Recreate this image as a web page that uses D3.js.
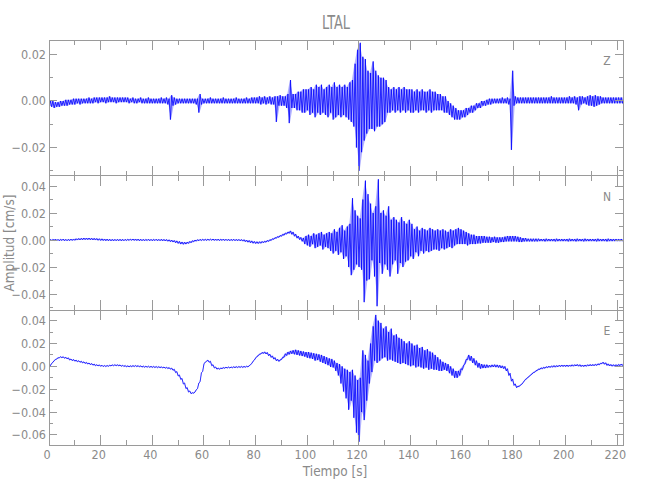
<!DOCTYPE html>
<html><head><meta charset="utf-8">
<script src="https://cdn.jsdelivr.net/npm/d3@7"></script>
<style>
body{margin:0;background:#fff}
svg{display:block}
text{font-family:"Liberation Sans Narrow","DejaVu Sans Condensed",sans-serif;fill:#8a8a8a}
</style>
</head><body>
<svg id="chart" width="650" height="500"></svg>
<script>
// ---------------- DATA ----------------
const title = "LTAL";
const xLabel = "Tiempo [s]";
const yLabel = "Amplitud [cm/s]";
const components = ["Z", "N", "E"];
const sampleStep = 1; // seconds between envelope samples
const xMajorTicks = [0,20,40,60,80,100,120,140,160,180,200,220];
const xMinorTicks = [10,30,50,70,90,110,130,150,170,190,210];
// y tick labels per component (cm/s)
const zMajorTicks = [-0.02, 0.00, 0.02];
const zMinorTicks = [-0.03, -0.01, 0.01];
const nMajorTicks = [-0.04, -0.02, 0.00, 0.02, 0.04];
const nMinorTicks = [-0.05, -0.03, -0.01, 0.01, 0.03];
const eMajorTicks = [-0.06, -0.04, -0.02, 0.00, 0.02, 0.04];
const eMinorTicks = [-0.05, -0.03, -0.01, 0.01, 0.03];
const zRange = [-0.0320, 0.0262];
const nRange = [-0.0518, 0.0478];
const eRange = [-0.0688, 0.0493];

// Envelope of each trace, one max (hi) and min (lo) per second, t = 0..222 s, in 1e-3 cm/s
const zHi = [
0,0,-0.5,-0.5,0,0,0.5,0.5,0.5,1,
1,1,1,1,1,1.5,1,1.5,1.5,1.5,
1.5,1.5,1.5,2,1.5,1.5,1.5,1.5,1.5,1.5,
1.5,1,1.5,1,1,1.5,1,1,1.5,1,
1,1,1,1.5,1,1.5,1,2.5,1.5,1,
1,1,1,1,1,1,1,1,3,1,
1,1,1.5,1,1,1,1,1.5,1,1,
1,1,1.5,1,1,1,1.5,1,1.5,1.5,
1.5,2,1.5,2,1.5,2,1.5,2,2,2.5,
2,2,3,9,3,3,4,4,5,5,
5,6,5,7,6,7,5,6,7,6,
8,6,7,6,7,6,8,9,16,22,
25,19,18,13,12,17,13,11,10,10,
9,6,5,6,5,6,5,6,5,5,
5,4,5,4,5,4,4,5,4,4,
3,3,2,2,0,-1,-2,-3,-4,-4,
-4,-3,-3,-2,-2,-1,-1,0,0,0.5,
1,1,1,1,1,1.5,1,1.5,1,13,
2,1.5,1.5,1.5,1.5,1.5,1.5,1.5,1.5,1.5,
1.5,1.5,1.5,1.5,2,1.5,1.5,1.5,1.5,1.5,
1.5,2,1.5,2,1.5,2,2,1.5,2,2.5,
2,2.5,2,2,1.5,1.5,1.5,1.5,1.5,1.5,
1.5,1.5,1.5];
const zLo = [
-2,-2.5,-3,-2.5,-2.5,-2,-2,-2,-1.5,-1.5,
-1.5,-1,-1.5,-1,-1,-1,-1,-1,-0.5,-1,
-0.5,-0.5,-1,-0.5,-0.5,-0.5,-1,-0.5,-0.5,-0.5,
-0.5,-1,-0.5,-1,-1,-0.5,-1,-1,-1,-1,
-1,-1,-1,-1,-1,-1,-1.5,-8,-2,-1.5,
-1,-1,-1,-1,-1,-1,-1,-1.5,-5,-1.5,
-1,-1,-1,-1,-1,-1,-1,-1,-1,-1,
-1,-1,-1,-1,-1,-1,-1,-1,-1,-1,
-1,-1,-1.5,-1,-1.5,-1,-1.5,-1.5,-9,-2,
-2,-2,-3,-9.5,-3,-3,-4,-4,-5,-5,
-4,-6,-5,-7,-5,-6,-5,-6,-7,-5,
-8,-7,-6,-7,-6,-7,-8,-9,-11,-20,
-30,-22,-17,-14,-12,-12,-13,-11,-11,-10,
-9,-5,-5,-4,-5,-4,-5,-4,-5,-4,
-5,-5,-4,-5,-4,-4,-5,-4,-5,-4,
-4,-4,-4,-5,-5,-6,-7,-8,-8,-8,
-7,-7,-6,-5,-5,-4,-3,-3,-2,-2,
-1.5,-1.5,-1,-1,-1,-1,-1,-1,-1.5,-21,
-2,-1,-1,-1,-1,-1,-1,-1,-1,-1,
-1,-1,-1,-1,-1,-1,-1,-1,-1,-1,
-1,-1,-1,-1,-1.5,-4,-1.5,-1,-1.5,-2,
-2,-2.5,-2,-1.5,-1,-1,-1,-1,-1,-1,
-1,-1,-1];

const nHi = [
0.5,0.5,0.7,0.5,0.5,0.7,0.5,0.5,0.7,0.8,
1,1.2,1.3,1.5,1.5,1.5,1.4,1.3,1.2,1,
0.9,0.8,0.7,0.6,0.5,0.5,0.5,0.6,0.5,0.5,
0.6,0.7,0.8,0.8,0.7,0.6,0.5,0.5,0.6,0.5,
0.5,0.6,0.5,0.6,0.5,0.4,0.2,0,-0.3,-0.6,
-1,-1.4,-1.6,-1.5,-1,-0.5,0,0.3,0.5,0.6,
0.6,0.7,0.7,0.8,0.7,0.7,0.6,0.7,0.6,0.6,
0.5,0.6,0.5,0.5,0.4,0.3,0,-0.3,-0.6,-1,
-1.2,-1.2,-1,-0.8,-0.3,0.3,1,1.8,2.6,3.4,
4.3,5.2,6,6.8,6,4.5,3,2,1.5,3,
4,3,5,4,5,6,4,5,6,5,
8,6,9,11,7,10,12,31,22,18,
16,30,44,34,27,20,25,45,20,22,
18,25,15,17,15,13,17,14,12,15,
12,8,10,7,9,8,7,9,8,7,
8,7,8,7,6,8,7,8,9,8,
7,6,5,4,4,3,3,3,3,2.5,
2.5,2,2.5,2,2,2,2.5,3,3,3,
3,2.5,2,1.5,1.5,1,1,1,1,1,
0.8,0.8,1,0.8,0.8,0.8,1,0.8,0.8,0.8,
0.8,1,0.8,0.8,1,0.8,0.8,1,0.8,0.8,
0.8,0.8,1,0.8,0.8,0.8,1,0.8,0.8,0.8,
0.8,0.8,0.8];
const nLo = [
-0.5,-0.5,-0.3,-0.5,-0.5,-0.3,-0.5,-0.5,-0.4,-0.3,
-0.2,0,0.1,0.2,0.3,0.3,0.2,0.1,0,-0.2,
-0.3,-0.4,-0.5,-0.5,-0.6,-0.6,-0.5,-0.5,-0.6,-0.5,
-0.4,-0.3,-0.2,-0.3,-0.4,-0.5,-0.5,-0.5,-0.4,-0.5,
-0.5,-0.4,-0.5,-0.5,-0.6,-0.7,-0.9,-1.2,-1.5,-2,
-2.5,-3,-3.2,-3,-2.5,-2,-1.3,-0.8,-0.5,-0.4,
-0.3,-0.3,-0.2,-0.2,-0.3,-0.3,-0.4,-0.3,-0.4,-0.4,
-0.5,-0.4,-0.5,-0.5,-0.6,-0.8,-1.2,-1.6,-2,-2.4,
-2.6,-2.6,-2.4,-2,-1.6,-1,-0.3,0.5,1.3,2,
2.8,3.6,4.4,5,4.2,2.8,1.4,0.3,-1,-3,
-4,-5,-3,-6,-5,-4,-7,-5,-6,-8,
-10,-8,-11,-9,-14,-12,-20,-26,-22,-18,
-20,-22,-46,-30,-29,-15,-27,-49,-17,-25,
-18,-22,-27,-18,-15,-25,-17,-20,-16,-15,
-12,-14,-9,-12,-8,-10,-8,-9,-8,-7,
-7,-8,-6,-7,-6,-5,-6,-4,-3,-3,
-3,-3,-4,-3,-3,-3,-2.5,-2.5,-2,-2,
-2,-2,-1.5,-2,-2,-1.5,-1.5,-1,-1,-1,
-1,-1,-1.5,-1.5,-1,-1,-1,-1,-1,-1,
-0.8,-0.8,-1,-0.8,-0.8,-0.8,-1,-0.8,-0.8,-0.8,
-0.8,-1,-0.8,-0.8,-1,-0.8,-0.8,-1,-0.8,-0.8,
-0.8,-0.8,-1,-0.8,-0.8,-0.8,-1,-0.8,-0.8,-0.8,
-0.8,-0.8,-0.8];

const eHi = [
0.5,3.5,6,7.5,8.5,8.5,8,7.5,6.5,6,
5.5,5,4.5,4,3.5,3,2.5,2,1.5,1.3,
1,0.8,0.8,1,1.3,1.5,1.5,1.3,1,0.8,
0.5,0.5,0.7,0.8,0.7,0.5,0.3,0.2,0.2,0.1,
0,-0.1,-0.2,-0.3,-0.5,-0.7,-1,-1.5,-2.5,-4.5,
-7.5,-10.5,-14.5,-18.5,-21.5,-23,-22.5,-19.5,-13.5,-4.5,
3.5,5.5,4.5,1.5,-0.5,-1.5,-1.5,-1,-0.7,-0.5,
-0.5,-0.3,-0.2,-0.1,0,0,0.2,0.5,2.5,5.5,
8.7,10.7,12.2,12.7,12.2,10.7,9.2,7.7,6.2,5.7,
8,11,12.5,13.5,14,14.5,14,13.5,13,12.5,
12.5,12,11.5,11,10.5,10,9,8,7,6.5,
5,3,2,0,-2,-3,-5,-3,-8,-12,
-10,14,10,5,20,35,45,40,38,33,
35,30,33,27,28,25,24,22,20,22,
20,18,19,16,17,14,15,13,12,10,
8,6,4,3,2,0,-2,-4,-4,-2,
1,6,10,9,7,5,3,2,1.5,1.5,
1,1.3,1.5,1.3,1,0.5,0,-2,-6,-11,
-15.3,-17.3,-16.3,-14.3,-11.3,-9.3,-7.3,-5.3,-3.8,-2.3,
-1.3,-0.8,-0.3,0.2,0.4,0.7,0.7,1,1.2,1.2,
1.2,1.2,1.4,1.5,1.7,1.5,1.2,1.2,1.4,1.7,
1.7,1.9,2.2,2.7,3.7,3.2,2.2,1.7,1.5,1.5,
1.7,2,2.2];
const eLo = [
-0.5,2.5,5,6.5,7.5,7.5,7,6.5,5.5,5,
4.5,4,3.5,3,2.5,2,1.5,1,0.5,0.3,
0,-0.2,-0.2,0,0.3,0.5,0.5,0.3,0,-0.2,
-0.5,-0.5,-0.3,-0.2,-0.3,-0.5,-0.7,-0.8,-0.8,-0.9,
-1,-1.1,-1.2,-1.3,-1.5,-1.7,-2,-2.5,-3.5,-5.5,
-8.5,-11.5,-15.5,-19.5,-22.5,-24,-23.5,-20.5,-14.5,-5.5,
2.5,4.5,3.5,0.5,-1.5,-2.5,-2.5,-2,-1.7,-1.5,
-1.5,-1.3,-1.2,-1.1,-1,-1,-0.8,-0.5,1.5,4.5,
7.3,9.3,10.8,11.3,10.8,9.3,7.8,6.3,4.8,4.3,
6,8,9.5,10.5,11,10.5,10,9.5,9,8.5,
7.5,7,6.5,5,5.5,4,3,2,1,-0.5,
-1,-4,-8,-15,-22,-28,-38,-30,-45,-58,
-66,-40,-47,-30,-15,-5,5,3,5,7,
8,5,6,5,4,3,2,3,2,1,
0,1,-1,0,-1,-2,-1,-3,-2,-3,
-3,-4,-4,-3,-4,-6,-8,-10,-10,-8,
-3,2,6,5,3,1,-1,-2,-1.5,-1.5,
-1,-0.7,-0.5,-0.7,-1,-1.5,-2,-4,-8,-13,
-16.7,-18.7,-17.7,-15.7,-12.7,-10.7,-8.7,-6.7,-5.2,-3.7,
-2.7,-2.2,-1.7,-1.2,-1,-0.7,-0.7,-0.4,-0.2,-0.2,
-0.2,-0.2,0,0.1,0.3,0.1,-0.2,-0.2,0,0.3,
0.3,0.5,0.8,1.3,2.3,1.8,0.8,0.3,0.1,0.1,
0.3,0.6,0.8];

// ---------------- LAYOUT ----------------
const svg = d3.select("#chart");
const left = 49, right = 623;
const axisColor = "#9a9a9a";
const traceColor = "#0000ff";
const x = d3.scaleLinear().domain([0, 222.2]).range([left, right]);
const panels = [
  {name: components[0], hi: zHi, lo: zLo, range: zRange, major: zMajorTicks, minor: zMinorTicks, top: 40, bottom: 175.5},
  {name: components[1], hi: nHi, lo: nLo, range: nRange, major: nMajorTicks, minor: nMinorTicks, top: 175.5, bottom: 310},
  {name: components[2], hi: eHi, lo: eLo, range: eRange, major: eMajorTicks, minor: eMinorTicks, top: 310, bottom: 445}
];
const fmt = v => (v < 0 ? "\u2212" : "") + Math.abs(v).toFixed(2);

panels.forEach((p, k) => {
  const y = d3.scaleLinear().domain(p.range).range([p.bottom, p.top]);
  const g = svg.append("g");
  const clipId = "clip" + k;
  svg.append("clipPath").attr("id", clipId).append("rect")
    .attr("x", left).attr("y", p.top).attr("width", right - left).attr("height", p.bottom - p.top);

  // light envelope band (dense oscillation) between per-second min and max
  const env = p.hi.map((h, i) => ({t: i * sampleStep, hi: h * 1e-3, lo: p.lo[i] * 1e-3}));
  g.append("path")
    .attr("clip-path", `url(#${clipId})`)
    .attr("d", d3.area().x(d => x(d.t + 0.25)).y0(d => y(d.lo)).y1(d => y(d.hi)).curve(d3.curveLinear)(env))
    .attr("fill", traceColor).attr("fill-opacity", 0.3).attr("stroke", "none");

  // trace: zigzag between per-second min and max
  const pts = [];
  p.hi.forEach((h, i) => {
    pts.push([i * sampleStep, p.lo[i] * 1e-3]);
    pts.push([(i + 0.5) * sampleStep, h * 1e-3]);
  });
  g.append("path")
    .attr("clip-path", `url(#${clipId})`)
    .attr("d", d3.line().x(d => x(d[0])).y(d => y(d[1]))(pts))
    .attr("fill", "none").attr("stroke", traceColor).attr("stroke-width", 0.8);

  // frame
  g.append("rect").attr("x", left).attr("y", p.top).attr("width", right - left).attr("height", p.bottom - p.top)
    .attr("fill", "none").attr("stroke", axisColor).attr("stroke-width", 1).attr("shape-rendering", "crispEdges");

  const tick = (x1, y1, x2, y2) => g.append("line").attr("x1", x1).attr("y1", y1).attr("x2", x2).attr("y2", y2)
    .attr("stroke", axisColor).attr("stroke-width", 1).attr("shape-rendering", "crispEdges");

  // x ticks top & bottom
  xMajorTicks.forEach(v => { tick(x(v), p.bottom, x(v), p.bottom - 10); tick(x(v), p.top, x(v), p.top + 10); });
  xMinorTicks.forEach(v => { tick(x(v), p.bottom, x(v), p.bottom - 5); tick(x(v), p.top, x(v), p.top + 5); });
  // y ticks left & right
  p.major.forEach(v => { tick(left, y(v), left + 8, y(v)); tick(right, y(v), right - 8, y(v)); });
  p.minor.forEach(v => { tick(left, y(v), left + 4, y(v)); tick(right, y(v), right - 4, y(v)); });

  // y labels
  p.major.forEach(v => {
    g.append("text").attr("x", left - 3).attr("y", y(v)).attr("text-anchor", "end")
      .attr("dominant-baseline", "central").attr("font-size", 12.5).text(fmt(v));
  });
  // component label
  g.append("text").attr("x", 607).attr("y", p.top + 21).attr("text-anchor", "middle")
    .attr("dominant-baseline", "central").attr("font-size", 12).text(p.name);
});

// x tick labels
const xl = svg.append("g");
xMajorTicks.forEach(v => {
  xl.append("text").attr("x", x(v) - 2).attr("y", 454).attr("text-anchor", "middle")
    .attr("dominant-baseline", "central").attr("font-size", 12.5).text(v);
});
svg.append("text").attr("x", 335).attr("y", 471).attr("text-anchor", "middle")
  .attr("dominant-baseline", "central").attr("font-size", 13.5).text(xLabel);
svg.append("text").attr("transform", "translate(9,243) rotate(-90)").attr("text-anchor", "middle")
  .attr("dominant-baseline", "central").attr("font-size", 13.5).text(yLabel);
svg.append("text").attr("x", 336).attr("y", 22).attr("text-anchor", "middle")
  .attr("dominant-baseline", "central").attr("font-size", 20).attr("textLength", 28)
  .attr("lengthAdjust", "spacingAndGlyphs").text(title);
</script>
</body></html>
